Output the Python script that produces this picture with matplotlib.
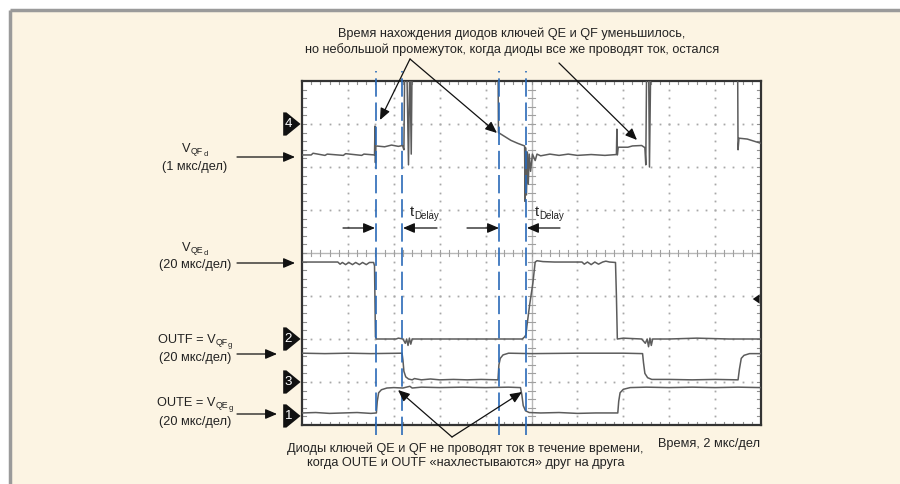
import matplotlib
matplotlib.use('Agg')
import matplotlib.pyplot as plt
from matplotlib.patches import Polygon, Rectangle
import numpy as np

plt.rcParams['font.family'] = ['Liberation Sans', 'DejaVu Sans']

# ---------------- data (oscilloscope divisions: x 0..10, y 0..8) ----------------
# Channel 4: V_QFd (top trace, 1 us/div)
ch4_t = [0.00, 0.20, 0.24, 0.50, 0.55, 0.90, 0.95, 1.30, 1.35, 1.58, 1.59, 1.60, 1.61,
         1.80, 1.95, 2.10, 2.19, 2.22, 2.24, 2.28, 2.32, 2.35, 2.38, 2.40, 2.42,
         4.27, 4.28, 4.40, 4.55, 4.70, 4.85, 4.86, 4.87, 4.89, 4.91, 4.93, 4.95, 4.98,
         5.02, 5.08, 5.12, 5.20, 5.40, 5.60, 5.80, 6.00, 6.30, 6.60, 6.85, 6.86, 6.87,
         6.89, 7.10, 7.20, 7.40, 7.47, 7.49, 7.51, 7.55, 7.57, 7.60,
         9.49, 9.50, 9.52, 9.70, 9.85, 10.00]
ch4_v = [6.28, 6.28, 6.32, 6.27, 6.30, 6.27, 6.31, 6.27, 6.30, 6.28, 6.95, 6.10, 6.49,
         6.47, 6.51, 6.48, 6.50, 6.40, 8.60, 8.60, 6.05, 8.60, 6.30, 8.60, 8.60,
         8.60, 6.80, 6.72, 6.62, 6.55, 6.49, 5.20, 6.45, 5.35, 6.35, 5.60, 6.30, 5.90,
         6.30, 6.15, 6.30, 6.26, 6.30, 6.27, 6.30, 6.27, 6.29, 6.27, 6.29, 6.88, 6.28,
         6.46, 6.46, 6.49, 6.50, 6.45, 6.05, 8.60, 8.60, 6.00, 8.60,
         8.60, 6.40, 6.67, 6.65, 6.60, 6.55]

# Channel 2: V_QEd (20 us/div)
ch2_t = [0.00, 0.78, 0.83, 0.88, 0.95, 1.02, 1.10, 1.17, 1.25, 1.32, 1.40, 1.47, 1.56,
         1.58, 1.60, 1.62, 2.05, 2.10, 2.20, 2.25, 2.28, 2.31, 2.34, 2.37, 2.40, 2.50,
         4.80, 4.85, 4.88, 4.90, 4.96, 5.03, 5.08, 5.12, 5.25, 5.50, 6.10, 6.15, 6.22,
         6.30, 6.38, 6.46, 6.55, 6.62, 6.70, 6.83, 6.85, 6.87, 7.00, 7.40, 7.48, 7.52,
         7.55, 7.58, 7.61, 7.64, 8.00, 8.60, 9.30, 10.00]
ch2_v = [3.79, 3.79, 3.74, 3.78, 3.73, 3.78, 3.73, 3.78, 3.73, 3.78, 3.73, 3.78, 3.78,
         3.70, 2.05, 2.00, 2.00, 2.02, 2.00, 1.90, 2.00, 1.85, 2.02, 1.88, 2.00, 2.00,
         2.00, 2.05, 2.10, 2.30, 2.80, 3.30, 3.79, 3.82, 3.80, 3.79, 3.79, 3.74, 3.79,
         3.73, 3.79, 3.74, 3.79, 3.81, 3.79, 3.78, 3.00, 2.00, 2.02, 2.00, 1.90, 2.00,
         1.82, 2.02, 1.85, 2.00, 2.00, 2.02, 2.00, 2.00]

# Channel 3: OUTF = V_QFg (20 us/div)
ch3_t = [0.00, 0.50, 1.00, 1.50, 2.18, 2.20, 2.22, 2.26, 2.32, 2.40, 2.45, 2.60, 2.80,
         3.00, 3.30, 3.60, 3.90, 4.27, 4.29, 4.32, 4.38, 4.50, 5.00, 6.00, 7.00, 7.42,
         7.44, 7.47, 7.53, 7.62, 8.00, 8.50, 9.00, 9.50, 9.53, 9.57, 9.63, 9.75, 10.00]
ch3_v = [1.67, 1.66, 1.67, 1.66, 1.67, 1.50, 1.25, 1.12, 1.07, 1.05, 1.08, 1.05, 1.07,
         1.05, 1.06, 1.05, 1.06, 1.05, 1.40, 1.55, 1.63, 1.67, 1.66, 1.67, 1.67, 1.66,
         1.45, 1.20, 1.10, 1.06, 1.06, 1.05, 1.06, 1.05, 1.30, 1.55, 1.62, 1.66, 1.66]

# Channel 1: OUTE = V_QEg (20 us/div)
ch1_t = [0.00, 0.30, 0.60, 0.90, 1.20, 1.50, 1.62, 1.64, 1.67, 1.73, 1.85, 2.00, 2.20,
         2.35, 2.40, 2.60, 3.00, 3.50, 4.00, 4.50, 4.76, 4.79, 4.82, 4.87, 4.95, 5.20,
         5.60, 6.00, 6.40, 6.88, 6.90, 6.93, 7.00, 7.15, 7.50, 8.00, 8.50, 9.00, 9.50, 10.00]
ch1_v = [0.28, 0.29, 0.27, 0.28, 0.29, 0.27, 0.28, 0.55, 0.75, 0.82, 0.86, 0.87, 0.86,
         0.90, 0.86, 0.88, 0.87, 0.88, 0.87, 0.88, 0.87, 0.70, 0.45, 0.33, 0.29, 0.28,
         0.29, 0.27, 0.28, 0.28, 0.55, 0.75, 0.83, 0.87, 0.88, 0.87, 0.88, 0.87, 0.88, 0.87]

# channel ground markers (label, level in divisions)
marker_labels = ['1', '2', '3', '4']
marker_levels = [0.21, 2.00, 1.00, 7.00]
trigger_level = 2.93

# delay marks (dashed blue lines), in divisions
delay_marks = [1.61, 2.18, 4.29, 4.88]

# ---------------- figure ----------------
W, H = 900, 484
cream = '#FCF4E3'
fig = plt.figure(figsize=(9, 4.84), dpi=100)
bg = fig.add_axes([0, 0, 1, 1])
bg.set_xlim(0, W); bg.set_ylim(H, 0); bg.axis('off')
bg.add_patch(Rectangle((10, 10), W, H, facecolor=cream, edgecolor='none'))
bg.plot([10, W], [10, 10], color='#9a9a9a', lw=2.5, solid_capstyle='butt')
bg.plot([10, 10], [10, H], color='#9a9a9a', lw=2.5, solid_capstyle='butt')

L, T, R, B = 302, 81, 761, 425
ax = fig.add_axes([L / W, 1 - B / H, (R - L) / W, (B - T) / H])
ax.set_xlim(0, 10); ax.set_ylim(0, 8)
ax.set_xticks([]); ax.set_yticks([])
ax.set_facecolor('white')
for s in ax.spines.values():
    s.set_color('#333333'); s.set_linewidth(1.6)

gcol = '#a8a8a8'
ys = np.arange(0.2, 8.0, 0.2)
xs = np.arange(0.2, 10.0, 0.2)
for gx in range(1, 10):
    if gx == 5:
        continue
    ax.plot(np.full_like(ys, gx), ys, ls='none', marker='s', ms=1.3, mew=0, color=gcol)
for gy in range(1, 8):
    if gy == 4:
        continue
    ax.plot(xs, np.full_like(xs, gy), ls='none', marker='s', ms=1.3, mew=0, color=gcol)
ax.axhline(4, color='#b8b8b8', lw=1.0)
ax.axvline(5, color='#b8b8b8', lw=1.0)
for x in xs:
    ax.plot([x, x], [3.93, 4.07], color='#a0a0a0', lw=0.8)
    ax.plot([x, x], [7.92, 8.0], color='#909090', lw=0.8)
    ax.plot([x, x], [0.0, 0.08], color='#909090', lw=0.8)
for y in ys:
    ax.plot([4.93, 5.07], [y, y], color='#a0a0a0', lw=0.8)
    ax.plot([9.92, 10.0], [y, y], color='#909090', lw=0.8)
    ax.plot([0.0, 0.08], [y, y], color='#909090', lw=0.8)

tcol = '#5c5c5c'
for t, v in [(ch4_t, ch4_v), (ch2_t, ch2_v), (ch3_t, ch3_v), (ch1_t, ch1_v)]:
    ax.plot(t, v, color=tcol, lw=1.1, zorder=4)

blue = '#2a6ab8'
for xm in delay_marks:
    ax.plot([xm, xm], [-0.23, 8.23], color=blue, lw=1.2, ls=(0, (11, 3.5)),
            clip_on=False, zorder=6)

for lab, lev in zip(marker_labels, marker_levels):
    ax.add_patch(Polygon([(-0.41, lev + 0.27), (-0.34, lev + 0.27), (-0.03, lev),
                          (-0.34, lev - 0.27), (-0.41, lev - 0.27)],
                         closed=True, facecolor='#111111', edgecolor='none', clip_on=False))
    ax.text(-0.30, lev, lab, color='white', fontsize=9.5, ha='center', va='center',
            clip_on=False)
ax.add_patch(Polygon([(9.82, trigger_level), (9.97, trigger_level + 0.11),
                      (9.97, trigger_level - 0.11)], closed=True, facecolor='#111111',
                     edgecolor='none', zorder=7))

# ---------------- overlay annotations ----------------
ov = fig.add_axes([0, 0, 1, 1], zorder=10)
ov.set_xlim(0, W); ov.set_ylim(H, 0); ov.axis('off'); ov.patch.set_alpha(0)

fs = 9.2
tc = '#222222'
ap = dict(arrowstyle='-|>,head_length=0.7,head_width=0.3', color='#111111', lw=0.9,
          shrinkA=0, shrinkB=0, mutation_scale=10)

def arrow(x0, y0, x1, y1):
    ov.annotate('', xy=(x1, y1), xytext=(x0, y0), arrowprops=ap)

def sub_label(x, y, parts, center=True):
    """parts: list of (text, fontsize, drop_in_points)."""
    base = ov.text(x, y, parts[0][0], fontsize=parts[0][1], ha='left', va='center',
                   color=tc)
    prev = base
    arts = [base]
    for txt, f, dy in parts[1:]:
        prev = ov.annotate(txt, xy=(1, 0), xycoords=prev, xytext=(0.2, -dy),
                           textcoords='offset points', fontsize=f, ha='left',
                           va='bottom', color=tc)
        arts.append(prev)
    if center:
        fig.canvas.draw()
        r = fig.canvas.get_renderer()
        x0 = arts[0].get_window_extent(r).x0
        x1 = arts[-1].get_window_extent(r).x1
        base.set_x(x - (x1 - x0) / 2.0)
    return arts

ov.text(512, 34, 'Время нахождения диодов ключей QE и QF уменьшилось,', ha='center',
        va='center', fontsize=fs, color=tc)
ov.text(512, 50, 'но небольшой промежуток, когда диоды все же проводят ток, остался',
        ha='center', va='center', fontsize=fs, color=tc)
arrow(410, 59, 380, 120)
arrow(410, 59, 497, 133)
arrow(559, 63, 637, 140)

ov.text(465, 449, 'Диоды ключей QE и QF не проводят ток в течение времени,', ha='center',
        va='center', fontsize=fs, color=tc)
ov.text(466, 463, 'когда OUTE и OUTF «нахлестываются» друг на друга', ha='center',
        va='center', fontsize=fs, color=tc)
arrow(452, 437, 398, 390)
arrow(452, 437, 522, 392)

ov.text(760, 444, 'Время, 2 мкс/дел', ha='right', va='center', fontsize=fs, color=tc)

# tDelay
arrow(343, 228, 375, 228)
arrow(437, 228, 403, 228)
arrow(467, 228, 499, 228)
arrow(560, 228, 527, 228)
sub_label(410, 212, [('t', 10.5, 0), ('Delay', 7.0, 1.5)], center=False)
sub_label(535, 212, [('t', 10.5, 0), ('Delay', 7.0, 1.5)], center=False)

# left labels
cx = 195
sub_label(cx, 149, [('V', fs, 0), ('QF', 6.3, 1.0), ('d', 5.5, 1.0)])
ov.text(cx, 167, '(1 мкс/дел)', ha='center', va='center', fontsize=fs, color=tc)
arrow(237, 157, 295, 157)

sub_label(cx, 248, [('V', fs, 0), ('QE', 6.3, 1.0), ('d', 5.5, 1.0)])
ov.text(cx, 265, '(20 мкс/дел)', ha='center', va='center', fontsize=fs, color=tc)
arrow(237, 263, 295, 263)

sub_label(cx, 340, [('OUTF = V', fs, 0), ('QF', 6.3, 1.0), ('g', 5.5, 1.0)])
ov.text(cx, 358, '(20 мкс/дел)', ha='center', va='center', fontsize=fs, color=tc)
arrow(237, 354, 277, 354)

sub_label(cx, 403, [('OUTE = V', fs, 0), ('QE', 6.3, 1.0), ('g', 5.5, 1.0)])
ov.text(cx, 422, '(20 мкс/дел)', ha='center', va='center', fontsize=fs, color=tc)
arrow(237, 414, 277, 414)

fig.savefig('out.png', dpi=100, facecolor='white')
